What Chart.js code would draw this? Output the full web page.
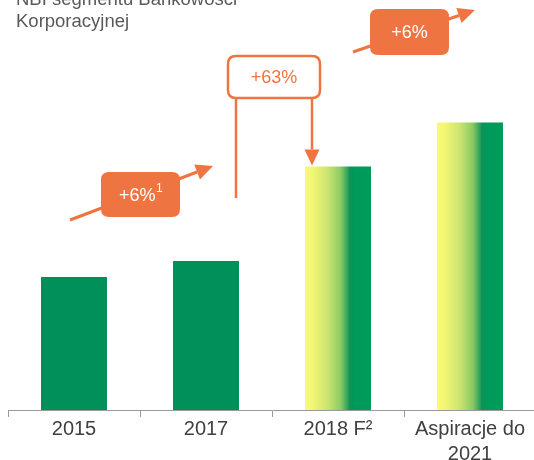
<!DOCTYPE html>
<html><head><meta charset="utf-8">
<script src="https://cdn.jsdelivr.net/npm/chart.js@4"></script>
<style>html,body{margin:0;padding:0;background:#fff;overflow:hidden;}#wrap{width:536px;height:460px;position:relative}</style>
</head><body><div id="wrap"><canvas id="c"></canvas></div>
<script>
const categories = ['2015', '2017', '2018 F\u00b2', ['Aspiracje do', '2021']];
const nbiIndex = [100, 112, 183, 216];
const isForecast = [false, false, true, true];
const titleLines = ['NBI segmentu Bankowości', 'Korporacyjnej'];
const growthLabels = ['+6%', '+63%', '+6%'];
const growthNote = '1';

const GREEN = '#02905A';
const ORANGE = '#EE7442';
const FONT = '"Liberation Sans", Arial, sans-serif';

function barFill(ctx) {
  const chart = ctx.chart, i = ctx.dataIndex;
  if (!isForecast[i]) return GREEN;
  const xs = chart.scales.x;
  if (!chart.chartArea || !xs) return GREEN;
  const c = xs.getPixelForValue(i);
  const w = (xs.width / categories.length) * 0.5;
  const g = chart.ctx.createLinearGradient(c - w / 2, 0, c + w / 2, 0);
  g.addColorStop(0, '#fafb74');
  g.addColorStop(0.12, '#f2f672');
  g.addColorStop(0.34, '#cde471');
  g.addColorStop(0.54, '#8acb63');
  g.addColorStop(0.63, '#3fa95c');
  g.addColorStop(0.68, '#0f9056');
  g.addColorStop(0.74, '#009a5b');
  g.addColorStop(1, '#009a5b');
  return g;
}

function arrow(c, x1, y1, x2, y2, lw, hl, hw) {
  const a = Math.atan2(y2 - y1, x2 - x1);
  const bx = x2 - hl * Math.cos(a), by = y2 - hl * Math.sin(a);
  c.strokeStyle = ORANGE; c.fillStyle = ORANGE; c.lineWidth = lw;
  c.beginPath(); c.moveTo(x1, y1); c.lineTo(bx, by); c.stroke();
  c.beginPath();
  c.moveTo(x2, y2);
  c.lineTo(bx + hw * Math.sin(a), by - hw * Math.cos(a));
  c.lineTo(bx - hw * Math.sin(a), by + hw * Math.cos(a));
  c.closePath(); c.fill();
}

function rrect(c, x, y, w, h, r) {
  c.beginPath();
  c.moveTo(x + r, y); c.lineTo(x + w - r, y); c.quadraticCurveTo(x + w, y, x + w, y + r);
  c.lineTo(x + w, y + h - r); c.quadraticCurveTo(x + w, y + h, x + w - r, y + h);
  c.lineTo(x + r, y + h); c.quadraticCurveTo(x, y + h, x, y + h - r);
  c.lineTo(x, y + r); c.quadraticCurveTo(x, y, x + r, y);
  c.closePath();
}

const overlay = {
  id: 'overlay',
  afterDraw(chart) {
    const c = chart.ctx, xs = chart.scales.x, ys = chart.scales.y;
    const px = i => xs.getPixelForValue(i);
    const mid = (a, b) => (px(a) + px(b)) / 2;
    const top = i => ys.getPixelForValue(nbiIndex[i]);
    c.save();
    // title
    c.fillStyle = '#595959';
    c.font = '18.5px ' + FONT;
    c.textAlign = 'left'; c.textBaseline = 'alphabetic';
    c.fillText(titleLines[0], 16, 5);
    c.fillText(titleLines[1], 16, 27);

    // growth 2015 -> 2017
    const m1 = mid(0, 1);
    arrow(c, m1 - 70, 220, m1 + 73, 166, 3, 17, 8);
    c.fillStyle = ORANGE;
    rrect(c, m1 - 39, 172, 79, 45, 8); c.fill();
    c.fillStyle = '#fff';
    c.font = '18px ' + FONT;
    const tw = c.measureText(growthLabels[0]).width;
    c.font = '12px ' + FONT;
    const sw = c.measureText(growthNote).width;
    const sx = m1 + 0.5 - (tw + sw) / 2;
    c.textBaseline = 'middle'; c.textAlign = 'left';
    c.font = '18px ' + FONT;
    c.fillText(growthLabels[0], sx, 196);
    c.font = '12px ' + FONT;
    c.fillText(growthNote, sx + tw + 0.5, 189);

    // growth 2017 -> 2018F
    const m2 = mid(1, 2);
    c.strokeStyle = ORANGE; c.lineWidth = 2.5;
    const lx = px(1) + 30, rx = px(2) - 26;
    c.beginPath(); c.moveTo(lx, 98); c.lineTo(lx, 198); c.stroke();
    arrow(c, rx, 98, rx, top(2) - 1, 2.5, 16, 7.5);
    c.fillStyle = '#fff'; c.strokeStyle = ORANGE; c.lineWidth = 2.5;
    rrect(c, m2 - 44, 56, 92, 42, 8); c.fill(); c.stroke();
    c.fillStyle = ORANGE; c.textAlign = 'center'; c.textBaseline = 'middle';
    c.font = '18px ' + FONT;
    c.fillText(growthLabels[1], m2 + 2, 78);

    // growth 2018F -> 2021
    const m3 = mid(2, 3);
    arrow(c, m3 - 51, 52, m3 + 71, 10, 3, 17, 8);
    c.fillStyle = ORANGE;
    rrect(c, m3 - 34, 9, 79, 46, 8); c.fill();
    c.fillStyle = '#fff'; c.textAlign = 'center'; c.textBaseline = 'middle';
    c.font = '18px ' + FONT;
    c.fillText(growthLabels[2], m3 + 5.5, 33);
    c.restore();
  }
};

new Chart(document.getElementById('c'), {
  type: 'bar',
  data: {
    labels: categories,
    datasets: [{
      data: nbiIndex,
      backgroundColor: barFill,
      borderWidth: 0,
      barPercentage: 1,
      categoryPercentage: 0.5
    }]
  },
  options: {
    responsive: true,
    maintainAspectRatio: false,
    animation: false,
    layout: { padding: { left: 8, right: 0, top: 0, bottom: 0 } },
    plugins: { legend: { display: false }, tooltip: { enabled: false }, title: { display: false } },
    scales: {
      x: {
        offset: true,
        grid: { display: true, drawOnChartArea: false, drawTicks: true, tickLength: 7, color: '#9a9a9a', offset: true },
        border: { display: true, color: '#9a9a9a', width: 1 },
        ticks: { color: '#404040', font: { family: FONT, size: 20, lineHeight: 1.25 }, padding: 0, maxRotation: 0, autoSkip: false },
        afterFit(s) { s.height = 50; }
      },
      y: { display: false, min: 0, max: 308 }
    }
  },
  plugins: [overlay]
});
</script>
</body></html>
